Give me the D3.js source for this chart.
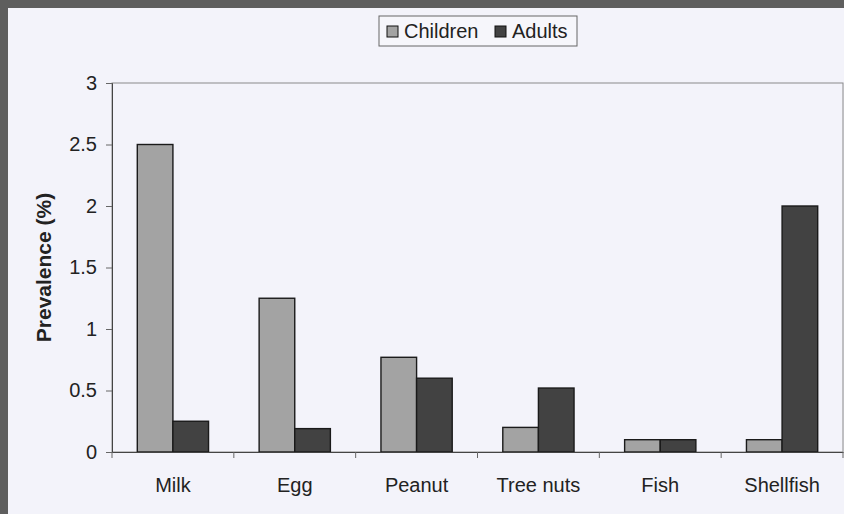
<!DOCTYPE html>
<html>
<head>
<meta charset="utf-8">
<script src="https://cdn.jsdelivr.net/npm/d3@7/dist/d3.min.js"></script>
<style>
  html, body { margin: 0; padding: 0; background: #5c5c5c; }
  svg { display: block; }
  text { font-family: "Liberation Sans", Arial, sans-serif; }
</style>
</head>
<body>
<svg id="chart" width="844" height="514"></svg>
<script>
// Food allergy prevalence by food, children vs adults
const categories = ["Milk", "Egg", "Peanut", "Tree nuts", "Fish", "Shellfish"];
const seriesNames = ["Children", "Adults"];
const children = [2.5, 1.25, 0.77, 0.2, 0.1, 0.1];
const adults = [0.25, 0.19, 0.6, 0.52, 0.1, 2.0];
const yTicks = [0, 0.5, 1, 1.5, 2, 2.5, 3];
const yTickLabels = ["0", "0.5", "1", "1.5", "2", "2.5", "3"];
const colors = ["#a3a3a3", "#424242"];

const svg = d3.select("#chart");
const W = 844, H = 514;

// slide frame and panel
svg.append("rect").attr("x", 0).attr("y", 0).attr("width", W).attr("height", H).attr("fill", "#5e5e5e");
svg.append("rect").attr("x", 8).attr("y", 8).attr("width", W - 8).attr("height", H - 8).attr("fill", "#f3f3fa");

const plot = { left: 112, top: 83, right: 843, bottom: 452 };

const x = d3.scaleBand().domain(categories).range([plot.left, plot.right]).paddingInner(0).paddingOuter(0);
const xs = d3.scaleBand().domain(seriesNames).range([0, x.bandwidth()]).paddingInner(0).paddingOuter(0.71);
const y = d3.scaleLinear().domain([0, 3]).range([plot.bottom, plot.top]);

// plot area frame
svg.append("rect")
  .attr("x", plot.left).attr("y", plot.top)
  .attr("width", plot.right - plot.left).attr("height", plot.bottom - plot.top)
  .attr("fill", "none").attr("stroke", "#8a8a8a").attr("stroke-width", 1);

// bars
const rows = categories.map((c, i) => ({ cat: c, vals: [children[i], adults[i]] }));
const groups = svg.append("g").selectAll("g").data(rows).join("g")
  .attr("transform", d => `translate(${x(d.cat)},0)`);
groups.selectAll("rect")
  .data(d => d.vals.map((v, j) => ({ name: seriesNames[j], v, j })))
  .join("rect")
  .attr("x", d => xs(d.name))
  .attr("y", d => y(d.v))
  .attr("width", xs.bandwidth())
  .attr("height", d => y(0) - y(d.v))
  .attr("fill", d => colors[d.j])
  .attr("stroke", "#1a1a1a")
  .attr("stroke-width", 1.4);

// y axis
const yAxis = d3.axisLeft(y).tickValues(yTicks)
  .tickFormat((d, i) => yTickLabels[i]).tickSize(6).tickPadding(9);
const gy = svg.append("g").attr("transform", `translate(${plot.left},0)`).call(yAxis);
gy.select(".domain").attr("stroke", "#444");
gy.selectAll(".tick line").attr("stroke", "#666");
gy.selectAll("text").attr("font-size", 20).attr("fill", "#222");

// x axis
const xAxis = d3.axisBottom(x).tickSize(0).tickPadding(26);
const gx = svg.append("g").attr("transform", `translate(0,${plot.bottom})`).call(xAxis);
gx.select(".domain").attr("stroke", "#444");
gx.selectAll("text").attr("font-size", 20).attr("fill", "#222");
// category boundary ticks
const bounds = d3.range(categories.length + 1).map(i => plot.left + i * x.step());
svg.append("g").selectAll("line").data(bounds).join("line")
  .attr("x1", d => d).attr("x2", d => d)
  .attr("y1", plot.bottom).attr("y2", plot.bottom + 6)
  .attr("stroke", "#666");

// y title
svg.append("text")
  .attr("transform", `translate(51,${(plot.top + plot.bottom) / 2}) rotate(-90)`)
  .attr("text-anchor", "middle")
  .attr("font-size", 21).attr("font-weight", "bold").attr("fill", "#222")
  .text("Prevalence (%)");

// legend
const lg = svg.append("g").attr("transform", "translate(379,16)");
lg.append("rect").attr("width", 198).attr("height", 30)
  .attr("fill", "#f6f6fb").attr("stroke", "#666").attr("stroke-width", 1);
const items = [{ name: "Children", x: 8, c: colors[0] }, { name: "Adults", x: 116, c: colors[1] }];
items.forEach(it => {
  lg.append("rect").attr("x", it.x).attr("y", 10).attr("width", 11).attr("height", 11)
    .attr("fill", it.c).attr("stroke", "#111").attr("stroke-width", 1);
  lg.append("text").attr("x", it.x + 17).attr("y", 22)
    .attr("font-size", 20).attr("fill", "#222").text(it.name);
});
</script>
</body>
</html>
